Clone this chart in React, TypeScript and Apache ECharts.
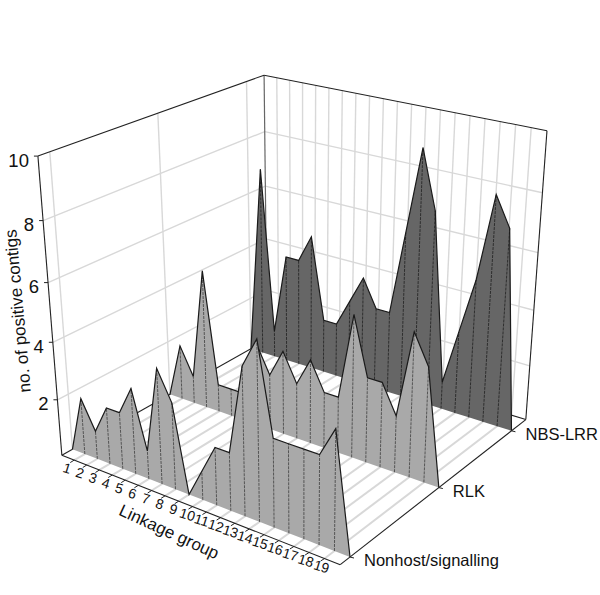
import React, { useEffect, useRef } from "react";
import * as echarts from "echarts";

// Each series has a closing zero point on both ends of the 0..20 x-scale.
const linkageGroups = ["1","2","3","4","5","6","7","8","9","10","11","12","13","14","15","16","17","18","19"];
const valueTicks = [2, 4, 6, 8, 10];
const nonhost = [0,2,1,2,2,3,1,4,3,0,1,2,2,5,6,3,3,3,3,4,0];
const rlk = [0,2,1,5,1,1,1,3,2,3,2,3,2,2,5,3,3,2,5,4,0];
const nbsLrr = [0,7,1,4,4,5,2,2,3,4,3,3,6,9,7,1,3,5,8,7,0];
const seriesNames = ["Nonhost/signalling", "RLK", "NBS-LRR"];
const seriesDepth = [0.045, 0.49, 0.91];
const xMax = 20;
const yMax = 10;

const W = 600, H = 595;
const FONT = '"Liberation Sans", Arial, sans-serif';

// Projective camera fitted to the box's corners: [X, Z, Y] unit cube -> pixels.
const corners: number[][] = [
  [0, 0, 0, 62, 455],
  [0, 0, 1, 38, 156],
  [1, 0, 0, 340, 565],
  [1, 1, 0, 526, 419],
  [1, 1, 1, 547, 131],
  [0, 1, 1, 264, 75],
  [0, 1, 0, 267, 340],
];

function fitCamera(pts: number[][]) {
  const rows: number[][] = [];
  const rhs: number[] = [];
  for (const [X, Z, Y, u, v] of pts) {
    rows.push([X, Z, Y, 1, 0, 0, 0, 0, -u * X, -u * Z, -u * Y]); rhs.push(u);
    rows.push([0, 0, 0, 0, X, Z, Y, 1, -v * X, -v * Z, -v * Y]); rhs.push(v);
  }
  const n = 11;
  const A: number[][] = [];
  for (let i = 0; i < n; i++) {
    const r: number[] = [];
    for (let j = 0; j < n; j++) r.push(rows.reduce((s, row) => s + row[i] * row[j], 0));
    r.push(rows.reduce((s, row, k) => s + row[i] * rhs[k], 0));
    A.push(r);
  }
  for (let c = 0; c < n; c++) {
    let piv = c;
    for (let r = c + 1; r < n; r++) if (Math.abs(A[r][c]) > Math.abs(A[piv][c])) piv = r;
    [A[c], A[piv]] = [A[piv], A[c]];
    for (let r = 0; r < n; r++) {
      if (r === c) continue;
      const f = A[r][c] / A[c][c];
      for (let k = c; k <= n; k++) A[r][k] -= f * A[c][k];
    }
  }
  return A.map((r, i) => r[n] / r[i]);
}
const cam = fitCamera(corners);
function project(X: number, Z: number, Y: number): number[] {
  const w = cam[8] * X + cam[9] * Z + cam[10] * Y + 1;
  return [
    (cam[0] * X + cam[1] * Z + cam[2] * Y + cam[3]) / w,
    (cam[4] * X + cam[5] * Z + cam[6] * Y + cam[7]) / w,
  ];
}

// The hidden cartesian axes supply the scales; their output is fed to the camera.
function scaled(api: any, x: number, v: number, z: number) {
  const c = api.coord([x, v]);
  return project(c[0] / W, z, 1 - c[1] / H);
}

const seg = (a: number[], b: number[], stroke: string, lineWidth: number, extra: any = {}) => ({
  type: "line",
  silent: true,
  shape: { x1: a[0], y1: a[1], x2: b[0], y2: b[1] },
  style: { stroke, lineWidth, fill: "none", ...extra },
});
const txt = (text: string, x: number, y: number, fontSize: number, align: string, rotation = 0) => ({
  type: "text",
  silent: true,
  x, y, rotation,
  style: { text, fill: "#111", fontSize, fontFamily: FONT, align, verticalAlign: "middle" },
});

const GRID = "#d8d8d8";
const EDGE = "#222";

function renderWalls(params: any, api: any) {
  if (params.dataIndex !== 0) return null;
  const kids: any[] = [];
  const P = (x: number, v: number, z: number) => scaled(api, x, v, z);
  for (let x = 1; x < xMax; x++) {
    kids.push(seg(P(x, 0, 0), P(x, 0, 1), GRID, 2));
    kids.push(seg(P(x, 0, 1), P(x, yMax, 1), GRID, 1.4));
  }
  for (const t of valueTicks) {
    if (t === yMax) continue;
    kids.push(seg(P(0, t, 0), P(0, t, 1), GRID, 1.4));
    kids.push(seg(P(0, t, 1), P(xMax, t, 1), GRID, 1.4));
  }
  for (const z of seriesDepth) kids.push(seg(P(0, 0, z), P(0, yMax, z), GRID, 1.4));
  kids.push(seg(P(0, 0, 1), P(0, yMax, 1), "#666", 1.2));
  kids.push(seg(P(0, yMax, 0), P(0, yMax, 1), EDGE, 1.1));
  kids.push(seg(P(0, yMax, 1), P(xMax, yMax, 1), EDGE, 1.1));
  kids.push(seg(P(xMax, 0, 1), P(xMax, yMax, 1), EDGE, 1.1));
  kids.push(seg(P(0, 0, 0), P(0, 0, 1), EDGE, 1.1));
  kids.push(seg(P(0, 0, 1), P(xMax, 0, 1), EDGE, 1.1));
  return { type: "group", children: kids };
}

function renderRibbon(fill: string, dropColor: string, depth: number) {
  return (params: any, api: any) => {
    if (params.dataIndex !== 0) return null;
    const n = params.dataInsideLength;
    const tops: number[][] = [];
    const bases: number[][] = [];
    for (let i = 0; i < n; i++) {
      const x = api.value(0, i);
      tops.push(scaled(api, x, api.value(1, i), depth));
      bases.push(scaled(api, x, 0, depth));
    }
    const kids: any[] = [
      {
        type: "polygon",
        silent: true,
        shape: { points: [...tops, ...bases.slice().reverse()] },
        style: { fill, stroke: "none" },
      },
    ];
    for (let i = 1; i < n - 1; i++) {
      kids.push(seg(bases[i], tops[i], dropColor, 1, { lineDash: [3, 1] }));
    }
    kids.push({
      type: "polyline",
      silent: true,
      shape: { points: tops },
      style: { stroke: "#1a1a1a", lineWidth: 1.2, fill: "none" },
    });
    return { type: "group", children: kids };
  };
}

function renderFront(params: any, api: any) {
  if (params.dataIndex !== 0) return null;
  const P = (x: number, v: number, z: number) => scaled(api, x, v, z);
  const kids: any[] = [];
  kids.push(seg(P(0, 0, 0), P(xMax, 0, 0), EDGE, 1.1));
  kids.push(seg(P(xMax, 0, 0), P(xMax, 0, 1), EDGE, 1.1));
  kids.push(seg(P(0, 0, 0), P(0, yMax, 0), EDGE, 1.1));
  // value axis
  for (const t of valueTicks) {
    const p = P(0, t, 0);
    kids.push(seg([p[0] - 4, p[1]], p, EDGE, 1));
    kids.push(txt(String(t), p[0] - 9, p[1] + 4, 18.5, "right"));
  }
  // linkage group axis
  linkageGroups.forEach((g, i) => {
    const a = P(i + 1, 0, 0);
    kids.push(seg(a, [a[0] - 4, a[1] + 2.5], EDGE, 1));
    kids.push(txt(g, a[0] - 7 + (4 * i) / 18, a[1] + 8, 14, "center", -0.3));
  });
  // depth axis
  seriesNames.forEach((name, i) => {
    const p = P(xMax, 0, seriesDepth[i]);
    kids.push(seg(p, [p[0] + 4, p[1] + 1], EDGE, 1));
    kids.push(txt(name, p[0] + 14, p[1] + 3, 16.5, "left"));
  });
  kids.push(txt("no. of positive contigs", 18, 311, 17, "center", Math.PI / 2 + 0.09));
  kids.push(txt("Linkage group", 169, 532, 17, "center", -0.43));
  return { type: "group", children: kids };
}

const toData = (vals: number[]) => vals.map((v, i) => [i, v]);

export default function App() {
  const ref = useRef<HTMLDivElement>(null);
  useEffect(() => {
    const chart = echarts.init(ref.current!, undefined, { renderer: "svg", width: W, height: H });
    const base = { type: "custom", coordinateSystem: "cartesian2d", clip: false, silent: true, encode: { x: 0, y: 1 } };
    chart.setOption({
      animation: false,
      backgroundColor: "#fff",
      grid: { left: 0, top: 0, width: W, height: H, show: false },
      xAxis: { type: "value", min: 0, max: xMax, show: false },
      yAxis: { type: "value", min: 0, max: yMax, show: false },
      series: [
        { ...base, name: "walls", z: 1, data: toData(nbsLrr), renderItem: renderWalls },
        { ...base, name: seriesNames[2], z: 2, data: toData(nbsLrr), renderItem: renderRibbon("#666666", "#2e2e2e", seriesDepth[2]) },
        { ...base, name: seriesNames[1], z: 3, data: toData(rlk), renderItem: renderRibbon("#a9a9a9", "#555", seriesDepth[1]) },
        { ...base, name: seriesNames[0], z: 4, data: toData(nonhost), renderItem: renderRibbon("#a9a9a9", "#555", seriesDepth[0]) },
        { ...base, name: "axes", z: 5, data: toData(nonhost), renderItem: renderFront },
      ],
    });
    return () => chart.dispose();
  }, []);
  return <div ref={ref} style={{ position: "absolute", left: 0, top: 0, width: W, height: H }} />;
}
